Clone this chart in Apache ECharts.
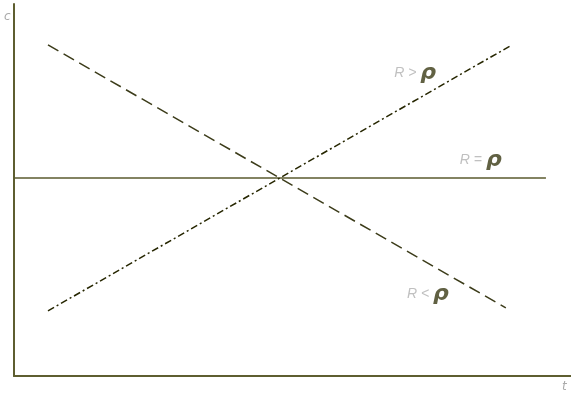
<!DOCTYPE html>
<html>
<head>
<meta charset="utf-8">
<script src="https://cdn.jsdelivr.net/npm/echarts@6/dist/echarts.min.js"></script>
<style>
html,body{margin:0;padding:0;background:#fff;}
#chart{width:571px;height:396px;}
</style>
</head>
<body>
<div id="chart"></div>
<script>
// Path of c over t for the three cases
const riseLine = [[0.61, 1.75], [8.94, 8.90]];   // R > rho
const fallLine = [[0.61, 8.90], [8.83, 1.83]];   // R < rho
const flatLine = [[0, 5.32], [9.55, 5.32]];      // R = rho

// Case labels: [t, c, relation]
const caseLabels = [
  [7.2, 8.15, '>'],
  [8.38, 5.81, '='],
  [7.43, 2.2, '<']
];

const axisColor = '#5e5e30';

const chart = echarts.init(document.getElementById('chart'), null, {renderer: 'canvas'});
chart.setOption({
  animation: false,
  backgroundColor: '#fff',
  grid: {left: 14, right: 0, top: 4, bottom: 20},
  xAxis: {
    type: 'value', min: 0, max: 10,
    axisLine: {show: true, onZero: false, lineStyle: {color: axisColor, width: 2}},
    axisTick: {show: false}, axisLabel: {show: false}, splitLine: {show: false}
  },
  yAxis: {
    type: 'value', min: 0, max: 10,
    axisLine: {show: true, onZero: false, lineStyle: {color: axisColor, width: 2}},
    axisTick: {show: false}, axisLabel: {show: false}, splitLine: {show: false}
  },
  graphic: [
    {type: 'text', left: 4, top: 11, style: {text: 'c', fill: '#aaa', font: 'italic 12px "DejaVu Sans", sans-serif'}},
    {type: 'text', left: 562, top: 381, style: {text: 't', fill: '#aaa', font: 'italic 12px "DejaVu Sans", sans-serif'}}
  ],
  series: [
    {
      type: 'line', data: flatLine, symbol: 'none',
      lineStyle: {color: '#5a5a2e', width: 1.5}
    },
    {
      type: 'line', data: fallLine, symbol: 'none',
      lineStyle: {color: '#3c3c1a', width: 1.5, type: [12, 6]}
    },
    {
      type: 'line', data: riseLine, symbol: 'none',
      lineStyle: {color: '#262600', width: 1.5, type: [7, 3, 2, 3]}
    },
    {
      type: 'scatter', symbolSize: 0,
      data: caseLabels.map(d => ({value: [d[0], d[1]], rel: d[2]})),
      label: {
        show: true, position: 'inside',
        formatter: p => '{r|R ' + p.data.rel + ' }{p|ρ}',
        rich: {
          r: {color: '#b0b0b0', fontSize: 14, fontStyle: 'italic', fontFamily: 'Liberation Sans'},
          p: {color: '#3a3a14', fontSize: 22, fontStyle: 'italic', fontFamily: 'DejaVu Sans', fontWeight: 'bold'}
        }
      }
    }
  ]
});
</script>
</body>
</html>
